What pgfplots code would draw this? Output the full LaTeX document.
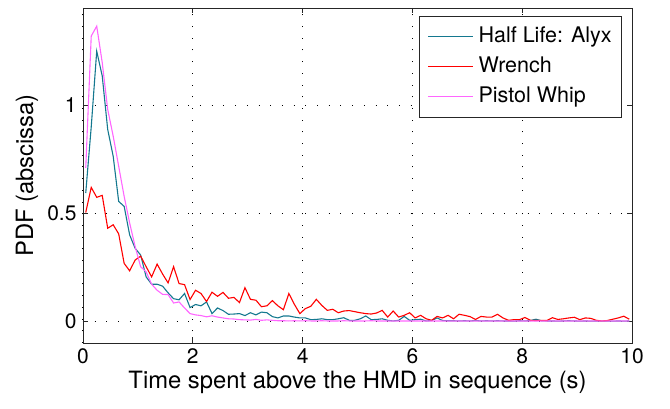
\documentclass[border=0pt]{standalone}
\usepackage{fontspec}
\setmainfont{TeX Gyre Heros}
\usepackage{pgfplots}
\usepackage{pgfplotstable}
\pgfplotsset{compat=1.18}

\definecolor{alyx}{rgb}{0.08,0.47,0.56}
\definecolor{wrench}{rgb}{1,0,0}
\definecolor{pistol}{rgb}{1,0.4,1}

% x = bin centre (s); PDF of each game
\pgfplotstableread{
x    alyx   wrench pistol
0.05 0.594  0.504  0.710
0.15 0.900  0.620  1.320
0.25 1.250  0.574  1.366
0.35 1.136  0.583  1.198
0.45 0.888  0.431  0.981
0.55 0.764  0.447  0.857
0.65 0.555  0.405  0.718
0.75 0.532  0.268  0.578
0.85 0.400  0.234  0.455
0.95 0.338  0.284  0.346
1.05 0.307  0.302  0.253
1.15 0.206  0.253  0.229
1.25 0.172  0.206  0.172
1.35 0.172  0.265  0.144
1.45 0.163  0.219  0.125
1.55 0.132  0.178  0.124
1.65 0.105  0.253  0.085
1.75 0.100  0.175  0.090
1.85 0.129  0.170  0.062
1.95 0.064  0.101  0.036
2.05 0.078  0.144  0.030
2.15 0.072  0.129  0.027
2.25 0.090  0.092  0.021
2.35 0.036  0.135  0.026
2.45 0.062  0.116  0.020
2.55 0.050  0.134  0.016
2.65 0.033  0.107  0.012
2.75 0.034  0.111  0.011
2.85 0.036  0.087  0.008
2.95 0.027  0.156  0.007
3.05 0.040  0.102  0.006
3.15 0.030  0.098  0.009
3.25 0.043  0.068  0.005
3.35 0.040  0.072  0.007
3.45 0.022  0.096  0.005
3.55 0.016  0.072  0.003
3.65 0.025  0.054  0.003
3.75 0.025  0.129  0.002
3.85 0.020  0.079  0.003
3.95 0.016  0.036  0.002
4.05 0.016  0.059  0.003
4.15 0.008  0.070  0.002
4.25 0.009  0.102  0.002
4.35 0.012  0.074  0.003
4.45 0.008  0.051  0.002
4.55 0.008  0.056  0.002
4.65 0.012  0.040  0.002
4.75 0.017  0.048  0.003
4.85 0.005  0.050  0.002
4.95 0.005  0.045  0.002
5.05 0.012  0.040  0.002
5.15 0.025  0.036  0.002
5.25 0.008  0.034  0.003
5.35 0.009  0.039  0.002
5.45 0.012  0.051  0.002
5.55 0.005  0.020  0.002
5.65 0.002  0.048  0.002
5.75 0.005  0.020  0.002
5.85 0.023  0.028  0.002
5.95 0.005  0.040  0.002
6.05 0.008  0.016  0.002
6.15 0.010  0.028  0.002
6.25 0.002  0.012  0.002
6.35 0.004  0.005  0.002
6.45 0.016  0.023  0.002
6.55 0.004  0.016  0.002
6.65 0.003  0.028  0.002
6.75 0.003  0.012  0.002
6.85 0.002  0.033  0.002
6.95 0.003  0.028  0.002
7.05 0.002  0.022  0.002
7.15 0.004  0.009  0.002
7.25 0.002  0.023  0.002
7.35 0.003  0.020  0.002
7.45 0.002  0.020  0.002
7.55 0.003  0.033  0.002
7.65 0.002  0.016  0.002
7.75 0.002  0.005  0.002
7.85 0.001  0.008  0.002
7.95 0.003  0.008  0.002
8.05 0.002  0.018  0.002
8.15 0.004  0.005  0.002
8.25 0.010  0.004  0.002
8.35 0.003  0.005  0.002
8.45 0.002  0.004  0.002
8.55 0.002  0.017  0.002
8.65 0.001  0.009  0.002
8.75 0.002  0.012  0.002
8.85 0.003  0.016  0.002
8.95 0.002  0.019  0.002
9.05 0.001  0.008  0.002
9.15 0.002  0.016  0.002
9.25 0.001  0.014  0.002
9.35 0.002  0.005  0.002
9.45 0.001  0.002  0.002
9.55 0.002  0.004  0.002
9.65 0.001  0.010  0.002
9.75 0.002  0.016  0.002
9.85 0.001  0.024  0.002
9.95 0.002  0.010  0.002
}\pdfdata

\begin{document}
\begin{tikzpicture}
\begin{axis}[
  at={(0,0)}, anchor=south west,
  scale only axis, width=549pt, height=335pt,
  xmin=0, xmax=10, ymin=-0.1, ymax=1.45,
  xtick={0,2,...,10}, ytick={0,0.5,1},
  tick align=inside, major tick length=5.5pt,
  grid=major,
  grid style={black, line width=1pt, dash pattern=on 1pt off 10.7pt},
  axis line style={black!85, line width=0.8pt},
  tick style={black!85, line width=0.8pt},
  font=\fontsize{21}{25}\selectfont,
  /pgf/number format/assume math mode=true,
  xticklabel style={anchor=center, yshift=-13pt},
  yticklabel style={anchor=east, xshift=-3pt},
  xlabel={Time spent above the HMD in sequence (s)},
  ylabel={PDF (abscissa)},
  every axis x label/.style={at={(rel axis cs:0.5,0)}, yshift=-39pt,
    anchor=center, font=\fontsize{23.8}{28}\selectfont},
  every axis y label/.style={at={(rel axis cs:0,0.5)}, xshift=-56pt,
    anchor=center, rotate=90, font=\fontsize{23.8}{28}\selectfont},
  legend style={at={(rel axis cs:1,1)}, anchor=north east,
    xshift=-10pt, yshift=-8pt, draw=black!85, line width=0.8pt,
    font=\fontsize{21.5}{26}\selectfont, row sep=5pt, column sep=3pt,
    inner xsep=8pt, inner ysep=8pt,
    nodes={inner sep=2pt, text height=16pt, text depth=5pt}},
  legend cell align=left,
  legend image code/.code={\draw[line width=1pt, #1] (0pt,0pt) -- (45pt,0pt);},
  every axis plot/.append style={line width=1.1pt},
]
\addplot[draw=alyx]   table[x=x, y=alyx]   {\pdfdata};
\addplot[draw=wrench] table[x=x, y=wrench] {\pdfdata};
\addplot[draw=pistol] table[x=x, y=pistol] {\pdfdata};
\legend{Half Life: Alyx, Wrench, Pistol Whip}
\end{axis}
\pgfresetboundingbox
\path[use as bounding box] (-83pt,-66pt) rectangle (587pt,343pt);
\end{tikzpicture}
\end{document}
